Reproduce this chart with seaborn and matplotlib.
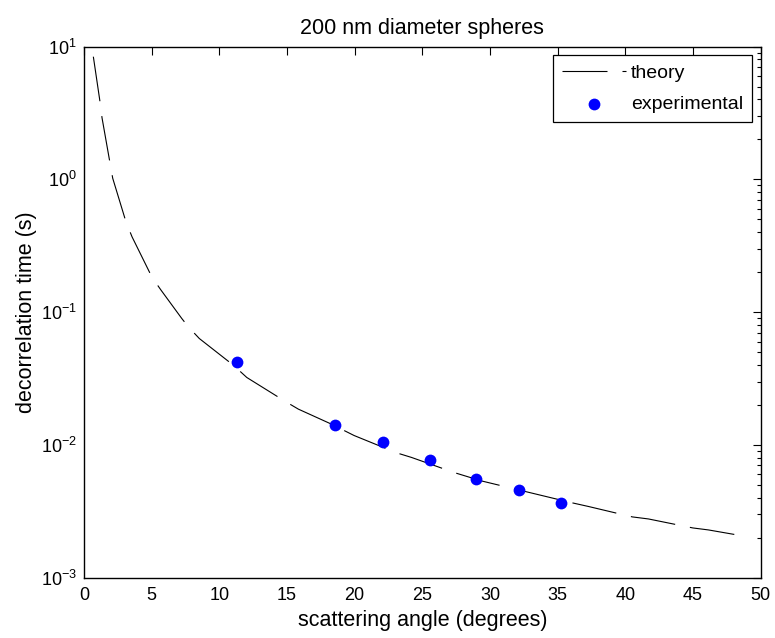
import numpy as np
import pandas as pd
import matplotlib
matplotlib.use("Agg")
import matplotlib.pyplot as plt
import seaborn as sns
from matplotlib.ticker import LogLocator, FixedLocator

# ---- data ----
theory_angle = [0.69, 1.18, 1.33, 1.92, 2.12, 3.10, 3.55, 5.03, 5.69, 7.22, 7.71,
                8.52, 11.03, 12.03, 14.86, 15.84, 18.18, 19.96, 23.11, 24.2,
                27.36, 29.39, 36.09, 37.27, 40.52, 41.71, 44.99, 46.14, 48.73]
theory_time = [8.39, 3.85, 2.91, 1.33, 1.02, 0.479, 0.369, 0.1826, 0.1465, 0.0897,
               0.0775, 0.0633, 0.0399, 0.0322, 0.0213, 0.0186, 0.0145, 0.01177,
               0.00871, 0.00805, 0.00619, 0.00535, 0.00366, 0.00344, 0.00287,
               0.00277, 0.00237, 0.00229, 0.00206]
exp_angle = [11.28, 18.55, 22.12, 25.57, 28.95, 32.15, 35.25]
exp_time = [0.042, 0.01416, 0.01055, 0.00767, 0.00554, 0.00458, 0.00367]
x_ticks = [0, 5, 10, 15, 20, 25, 30, 35, 40, 45, 50]

theory_df = pd.DataFrame({"angle": theory_angle, "time": theory_time})
exp_df = pd.DataFrame({"angle": exp_angle, "time": exp_time})

sns.set_style("white")
plt.rcParams["font.family"] = ["Liberation Sans", "DejaVu Sans"]
plt.rcParams["mathtext.fontset"] = "custom"
plt.rcParams["mathtext.rm"] = "Liberation Sans"
plt.rcParams["mathtext.it"] = "Liberation Sans"
plt.rcParams["lines.scale_dashes"] = False
plt.rcParams["text.color"] = "black"
plt.rcParams["axes.labelcolor"] = "black"
plt.rcParams["xtick.color"] = "black"
plt.rcParams["ytick.color"] = "black"

fig = plt.figure(figsize=(7.75, 6.38), dpi=100)
ax = fig.add_axes([0.1084, 0.0945, 0.8731, 0.8325])

sns.lineplot(data=theory_df, x="angle", y="time", ax=ax, color="black",
             linewidth=0.8, linestyle=(0, (32.4, 10.8)), label="theory",
             sort=False, estimator=None)
sns.scatterplot(data=exp_df, x="angle", y="time", ax=ax, color=(0, 0, 1),
                edgecolor=(0, 0, 1), s=72, linewidth=0, label="experimental",
                zorder=3)

ax.set_yscale("log")
ax.set_xlim(0, 50)
ax.set_ylim(1e-3, 1e1)
ax.xaxis.set_major_locator(FixedLocator(x_ticks))
ax.yaxis.set_major_locator(LogLocator(base=10, numticks=10))
ax.yaxis.set_minor_locator(LogLocator(base=10, subs=np.arange(2, 10), numticks=20))

for s in ax.spines.values():
    s.set_visible(True)
    s.set_color("black")
    s.set_linewidth(1.0)

ax.tick_params(axis="both", which="both", direction="in", top=True, right=True,
               colors="black", labelcolor="black", labelsize=13)
ax.tick_params(axis="x", which="major", length=5.5, width=0.8, pad=7)
ax.tick_params(axis="y", which="major", length=5.5, width=0.8, pad=5)
ax.tick_params(axis="y", which="minor", length=3, width=0.8)
ax.tick_params(axis="x", which="minor", length=0)

ax.set_title("200 nm diameter spheres", fontsize=15.5, pad=9, color="black")
ax.set_xlabel("scattering angle (degrees)", fontsize=15.5, labelpad=4)
ax.set_ylabel("decorrelation time (s)", fontsize=15.5, labelpad=3)

leg = ax.legend(loc="upper right", fontsize=14, frameon=True, fancybox=False,
                edgecolor="black", framealpha=1, borderpad=0.45,
                handlelength=3.3, handletextpad=0.25, labelspacing=0.7,
                borderaxespad=0.45)
leg.get_frame().set_linewidth(0.9)
for t in leg.get_texts():
    t.set_color("black")

fig.savefig("out.png", dpi=100, facecolor="white")
